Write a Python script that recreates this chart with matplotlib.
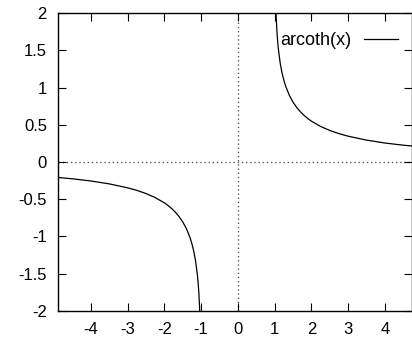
import matplotlib
matplotlib.use('Agg')
import matplotlib.pyplot as plt

# arcoth(x) sampled on both branches (|x| > 1)
x_right = [1.001, 1.01, 1.02, 1.04, 1.06, 1.08, 1.1, 1.15, 1.2, 1.25, 1.3, 1.4,
           1.5, 1.6, 1.7, 1.8, 1.9, 2.0, 2.25, 2.5, 2.75, 3.0, 3.5, 4.0, 4.5, 5.0]
y_right = [3.80, 2.652, 2.308, 1.966, 1.768, 1.629, 1.522, 1.331, 1.199, 1.099, 1.018, 0.896,
           0.805, 0.733, 0.675, 0.626, 0.585, 0.549, 0.478, 0.424, 0.381, 0.347, 0.294, 0.255, 0.226, 0.203]
x_left = [-5.0, -4.5, -4.0, -3.5, -3.0, -2.75, -2.5, -2.25, -2.0, -1.9, -1.8, -1.7, -1.6,
          -1.5, -1.4, -1.3, -1.25, -1.2, -1.15, -1.1, -1.08, -1.06, -1.04, -1.02, -1.01, -1.001]
y_left = [-0.203, -0.226, -0.255, -0.294, -0.347, -0.381, -0.424, -0.478, -0.549, -0.585, -0.626, -0.675, -0.733,
          -0.805, -0.896, -1.018, -1.099, -1.199, -1.331, -1.522, -1.629, -1.768, -1.966, -2.308, -2.652, -3.80]

xticks = [-4, -3, -2, -1, 0, 1, 2, 3, 4]
yticks = [-2, -1.5, -1, -0.5, 0, 0.5, 1, 1.5, 2]
ytick_labels = ['-2', '-1.5', '-1', '-0.5', '0', '0.5', '1', '1.5', '2']

plt.rcParams['font.family'] = ['Liberation Sans', 'DejaVu Sans']
plt.rcParams['font.size'] = 12
plt.rcParams['axes.unicode_minus'] = False

fig = plt.figure(figsize=(4.12, 3.4), dpi=100)
ax = fig.add_axes([58 / 412, 29.3 / 340, 353.5 / 412, 297.4 / 340])

# zero axes
ax.axhline(0, color='0.35', lw=1.0, dashes=(1, 2), zorder=1)
ax.axvline(0, color='0.35', lw=1.0, dashes=(1, 2), zorder=1)

line, = ax.plot(x_right, y_right, color='black', lw=0.9, label='arcoth(x)')
ax.plot(x_left, y_left, color='black', lw=0.9)

ax.set_xlim(-4.89, 4.72)
ax.set_ylim(-2, 2)
ax.set_xticks(xticks)
ax.set_yticks(yticks)
ax.set_yticklabels(ytick_labels)
ax.tick_params(direction='in', length=6, width=0.8, top=True, right=True, pad=8)
for s in ax.spines.values():
    s.set_linewidth(1.0)

ax.legend(loc='upper right', bbox_to_anchor=(0.962, 0.937), frameon=False,
          markerfirst=False, handlelength=1.9, handletextpad=0.7, borderpad=0,
          borderaxespad=0, fontsize=13)

fig.savefig('out.png', dpi=100)
